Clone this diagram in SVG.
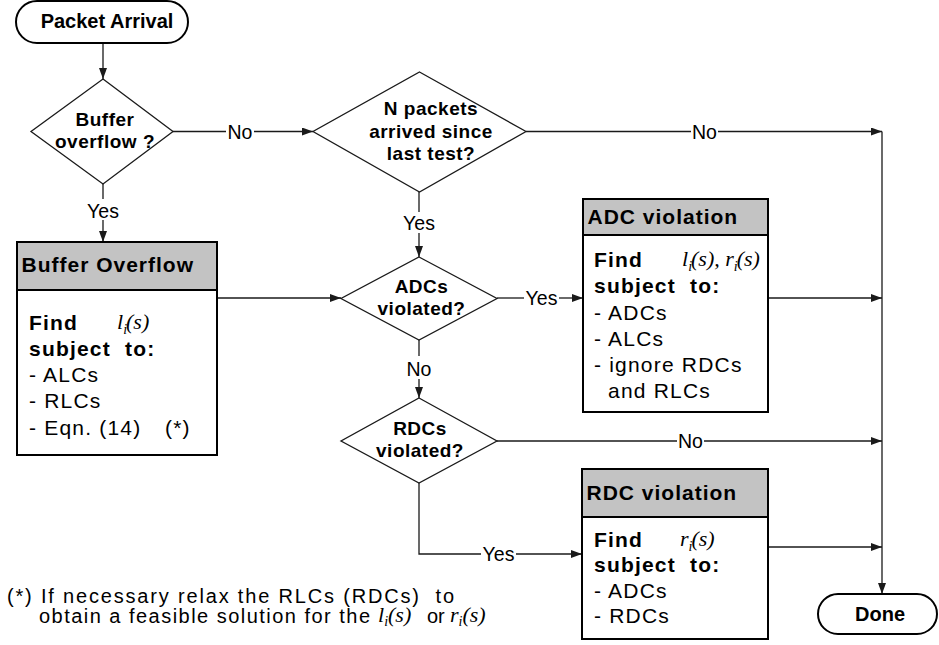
<svg xmlns="http://www.w3.org/2000/svg" width="939" height="645" viewBox="0 0 939 645">
<defs>
<style>
.ln{stroke:#1a1a1a;stroke-width:1.3;fill:none}
.dia{fill:#fff;stroke:#1a1a1a;stroke-width:1.3}
.box{fill:#fff;stroke:#000;stroke-width:2}
.hdr{fill:#c3c3c3;stroke:#000;stroke-width:2}
.term{fill:#fff;stroke:#000;stroke-width:2}
.t{font-family:"Liberation Sans",Arial,sans-serif;fill:#000;white-space:pre}
.b{font-weight:bold}
.lbl{font-size:19.5px;text-anchor:middle}
.dt{font-size:19px;font-weight:bold;letter-spacing:0.5px;text-anchor:middle}
.body{font-size:21px;letter-spacing:1.2px}
.hd{font-size:21px;font-weight:bold;letter-spacing:1px}
.tt{font-size:20px;font-weight:bold;text-anchor:middle}
.fn{font-size:20px}
.m{font-family:"Liberation Serif","Times New Roman",serif;font-style:italic;font-size:22px;fill:#000}
</style>
<marker id="ah" viewBox="0 0 11 8" refX="11" refY="4" markerWidth="11" markerHeight="8" markerUnits="userSpaceOnUse" orient="auto">
<path d="M0,0 L11,4 L0,8 z" fill="#1a1a1a"/>
</marker>
</defs>
<rect width="939" height="645" fill="#fff"/>

<g id="connectors">
<line class="ln" x1="103" y1="43" x2="103" y2="79" marker-end="url(#ah)"/>
<line class="ln" x1="173" y1="131.5" x2="226" y2="131.5"/>
<line class="ln" x1="254" y1="131.5" x2="313" y2="131.5" marker-end="url(#ah)"/>
<text class="t lbl" x="240" y="138.5">No</text>
<line class="ln" x1="526" y1="131.5" x2="691" y2="131.5"/>
<line class="ln" x1="718" y1="131.5" x2="882" y2="131.5" marker-end="url(#ah)"/>
<text class="t lbl" x="704.5" y="138.5">No</text>
<line class="ln" x1="882" y1="131.5" x2="882" y2="594" marker-end="url(#ah)"/>
<line class="ln" x1="103" y1="184" x2="103" y2="199"/>
<line class="ln" x1="103" y1="220" x2="103" y2="242" marker-end="url(#ah)"/>
<text class="t lbl" x="103" y="218">Yes</text>
<line class="ln" x1="217" y1="298" x2="341" y2="298" marker-end="url(#ah)"/>
<line class="ln" x1="419" y1="192" x2="419" y2="212"/>
<line class="ln" x1="419" y1="233" x2="419" y2="257" marker-end="url(#ah)"/>
<text class="t lbl" x="419" y="230">Yes</text>
<line class="ln" x1="497" y1="298" x2="524" y2="298"/>
<line class="ln" x1="559" y1="298" x2="583" y2="298" marker-end="url(#ah)"/>
<text class="t lbl" x="541.5" y="305">Yes</text>
<line class="ln" x1="768" y1="298" x2="882" y2="298" marker-end="url(#ah)"/>
<line class="ln" x1="419" y1="340" x2="419" y2="356"/>
<line class="ln" x1="419" y1="379" x2="419" y2="398" marker-end="url(#ah)"/>
<text class="t lbl" x="419" y="375.5">No</text>
<line class="ln" x1="497" y1="441" x2="677" y2="441"/>
<line class="ln" x1="704" y1="441" x2="882" y2="441" marker-end="url(#ah)"/>
<text class="t lbl" x="690.5" y="448">No</text>
<polyline class="ln" points="419,483 419,554 481,554"/>
<line class="ln" x1="516" y1="554" x2="582" y2="554" marker-end="url(#ah)"/>
<text class="t lbl" x="498.5" y="561">Yes</text>
<line class="ln" x1="768" y1="547" x2="882" y2="547" marker-end="url(#ah)"/>
</g>

<g id="packet-arrival">
<rect class="term" x="16" y="1" width="172" height="42" rx="21" ry="21"/>
<text class="t tt" x="107" y="28">Packet Arrival</text>
</g>

<g id="buffer-overflow-decision">
<polygon class="dia" points="103,79 173,131.5 103,184 31,131.5"/>
<text class="t dt" x="105" y="126">Buffer</text>
<text class="t dt" x="105" y="148">overflow ?</text>
</g>

<g id="n-packets-decision">
<polygon class="dia" points="419.5,72 526,131.5 419.5,192 313,131.5"/>
<text class="t dt" x="431" y="115">N packets</text>
<text class="t dt" x="431" y="138">arrived since</text>
<text class="t dt" x="431" y="160">last test?</text>
</g>

<g id="buffer-overflow-box">
<rect class="box" x="17" y="242" width="200" height="213"/>
<rect class="hdr" x="17" y="242" width="200" height="48"/>
<text class="t hd" x="21.5" y="272">Buffer Overflow</text>
<text class="t body b" x="29" y="330">Find</text>
<text class="m" x="117" y="329">l<tspan font-size="14" dy="5">i</tspan><tspan dx="-1" dy="-5">(s)</tspan></text>
<text class="t body b" x="29" y="356" xml:space="preserve">subject  to:</text>
<text class="t body" x="29" y="382">- ALCs</text>
<text class="t body" x="29" y="408">- RLCs</text>
<text class="t body" x="29" y="435">- Eqn. (14)</text>
<text class="t body" x="165" y="435">(*)</text>
</g>

<g id="adcs-decision">
<polygon class="dia" points="419,257 497,298.5 419,340 341,298.5"/>
<text class="t dt" x="421.5" y="293">ADCs</text>
<text class="t dt" x="421.5" y="315">violated?</text>
</g>

<g id="adc-violation-box">
<rect class="box" x="583" y="199" width="185" height="213"/>
<rect class="hdr" x="583" y="199" width="185" height="36"/>
<text class="t hd" x="587.5" y="223.5">ADC violation</text>
<text class="t body b" x="594" y="267">Find</text>
<text class="m" x="682" y="266">l<tspan font-size="14" dy="5">i</tspan><tspan dx="-1" dy="-5">(s), r</tspan><tspan font-size="14" dy="5">i</tspan><tspan dx="-1" dy="-5">(s)</tspan></text>
<text class="t body b" x="594" y="293" xml:space="preserve">subject  to:</text>
<text class="t body" x="594" y="320">- ADCs</text>
<text class="t body" x="594" y="346">- ALCs</text>
<text class="t body" x="594" y="372">- ignore RDCs</text>
<text class="t body" x="608" y="398">and RLCs</text>
</g>

<g id="rdcs-decision">
<polygon class="dia" points="419,398 497,441 419,483 341,441"/>
<text class="t dt" x="420" y="435">RDCs</text>
<text class="t dt" x="420" y="457">violated?</text>
</g>

<g id="rdc-violation-box">
<rect class="box" x="582" y="469" width="186" height="170"/>
<rect class="hdr" x="582" y="469" width="186" height="48"/>
<text class="t hd" x="586.5" y="500">RDC violation</text>
<text class="t body b" x="594" y="547">Find</text>
<text class="m" x="680" y="546">r<tspan font-size="14" dy="5">i</tspan><tspan dx="-1" dy="-5">(s)</tspan></text>
<text class="t body b" x="594" y="572" xml:space="preserve">subject  to:</text>
<text class="t body" x="594" y="598">- ADCs</text>
<text class="t body" x="594" y="623">- RDCs</text>
</g>

<g id="done">
<rect class="term" x="818" y="594" width="119" height="40" rx="20" ry="20"/>
<text class="t tt" x="880" y="621">Done</text>
</g>

<g id="footnote">
<text class="t fn" x="7" y="603" textLength="447" xml:space="preserve">(*) If necessary relax the RLCs (RDCs)  to</text>
<text class="t fn" x="39" y="623" textLength="331">obtain a feasible solution for the</text>
<text class="m" font-size="24" x="378" y="622">l<tspan font-size="14" dy="4">i</tspan><tspan dx="0" dy="-4">(s)</tspan></text>
<text class="t fn" x="427" y="623">or</text>
<text class="m" font-size="24" x="450" y="622">r<tspan font-size="14" dy="4">i</tspan><tspan dx="0" dy="-4">(s)</tspan></text>
</g>
</svg>
